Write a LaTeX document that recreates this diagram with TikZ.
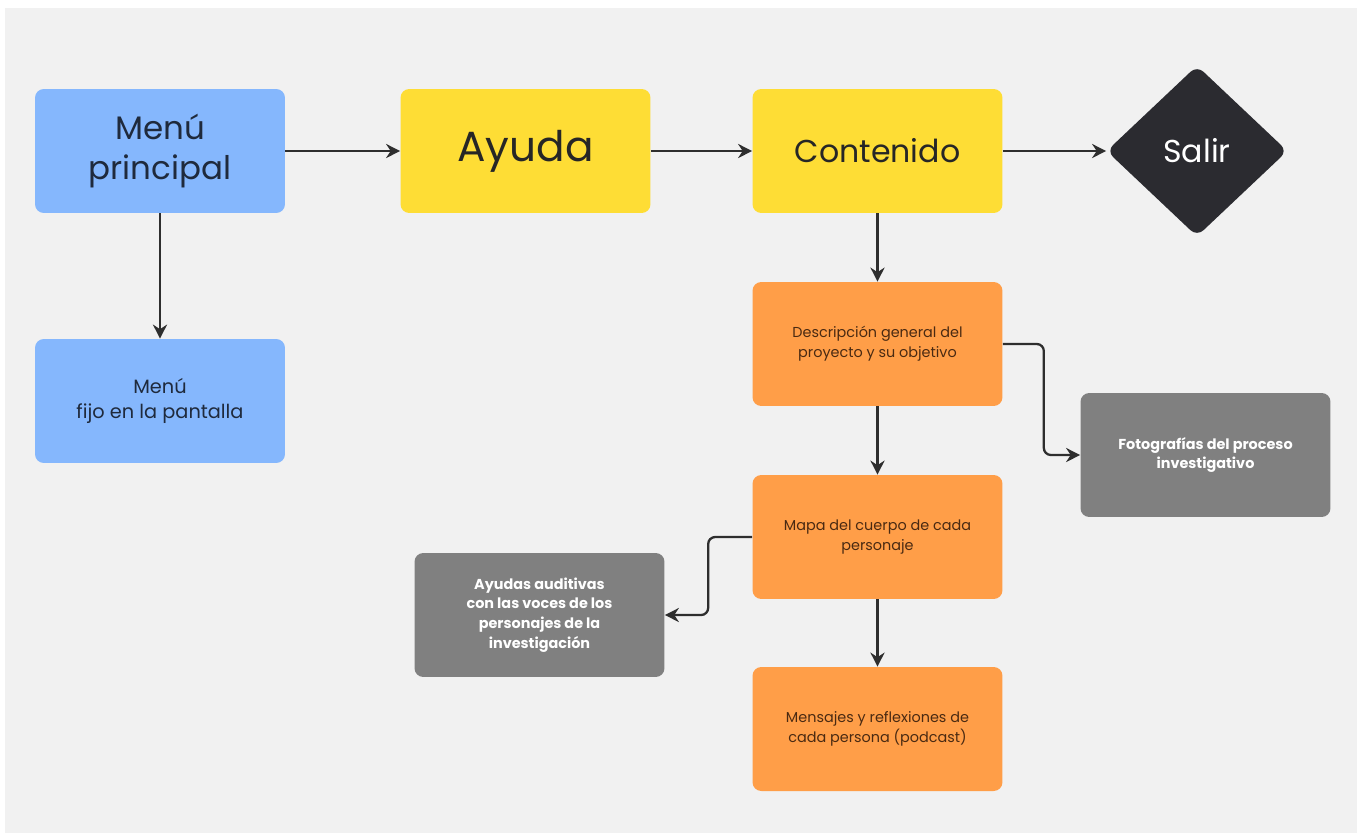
\documentclass[tikz,border=0pt]{standalone}
\usepackage{fontspec}
\setmainfont{Poppins}
\usetikzlibrary{shapes.geometric}
\usetikzlibrary{arrows.meta}

\definecolor{fondo}{HTML}{F1F1F1}
\definecolor{azul}{HTML}{85B7FD}
\definecolor{amarillo}{HTML}{FEDD35}
\definecolor{naranja}{HTML}{FF9E48}
\definecolor{gris}{HTML}{808080}
\definecolor{oscuro}{HTML}{2B2B30}
\definecolor{flecha}{HTML}{2E2E2E}
\definecolor{textoazul}{HTML}{1F2A3C}
\definecolor{textonaranja}{HTML}{4A2A12}

\tikzset{
  caja/.style={rectangle,rounded corners=5pt,minimum width=5cm,minimum height=2.48cm,
    inner sep=2pt,align=center},
  cajaazul/.style={caja,fill=azul,text=textoazul},
  cajaamarilla/.style={caja,fill=amarillo,text=black!85},
  cajanaranja/.style={caja,fill=naranja,text=textonaranja,font=\fontsize{8.2}{11.3}\selectfont},
  cajagris/.style={caja,fill=gris,text=white,font=\fontsize{8.2}{11.3}\selectfont\bfseries},
  conector/.style={->,draw=flecha,line width=1.3pt,rounded corners=4pt}
}

\begin{document}
\begin{tikzpicture}[x=0.02cm,y=-0.02cm,>={Stealth[length=8pt,width=8pt]}]
  \fill[white] (0,0) rectangle (1357,833);
  \fill[fondo] (5,8) rectangle (1357,833);
  \useasboundingbox (0,0) rectangle (1357,833);

  % fila superior
  \node[cajaazul,font=\fontsize{18.5}{23}\selectfont] (menu) at (160,151) {Menú\\principal};
  \node[cajaamarilla,font=\fontsize{24}{28}\selectfont] (ayuda) at (525.5,151) {Ayuda};
  \node[cajaamarilla,font=\fontsize{18}{21}\selectfont] (contenido) at (877.5,151) {Contenido};
  \node[diamond,fill=oscuro,text=white,rounded corners=5pt,minimum width=3.62cm,
    minimum height=3.42cm,inner sep=0pt,font=\fontsize{18}{21}\selectfont] (salir) at (1197,151) {Salir};

  % menu fijo
  \node[cajaazul,font=\fontsize{11}{14}\selectfont] (fijo) at (160,401) {Menú\\fijo en la pantalla};

  % contenido
  \node[cajanaranja] (desc) at (877.5,344) {Descripción general del\\proyecto y su objetivo};
  \node[cajagris] (fotos) at (1205.5,455) {Fotografías del proceso\\investigativo};
  \node[cajanaranja] (mapa) at (877.5,537) {Mapa del cuerpo de cada\\personaje};
  \node[cajagris] (audio) at (539.5,615) {Ayudas auditivas\\con las voces de los\\personajes de la\\investigación};
  \node[cajanaranja] (mensajes) at (877.5,729) {Mensajes y reflexiones de\\cada persona (podcast)};

  \draw[conector] (menu) -- (ayuda);
  \draw[conector] (ayuda) -- (contenido);
  \draw[conector] (contenido) -- (salir);
  \draw[conector] (menu) -- (fijo);
  \draw[conector] (contenido) -- (desc);
  \draw[conector] (desc.east) -- ++(41,0) |- (fotos.west);
  \draw[conector] (desc) -- (mapa);
  \draw[conector] (mapa.west) -- ++(-44,0) |- (audio.east);
  \draw[conector] (mapa) -- (mensajes);
\end{tikzpicture}
\end{document}
